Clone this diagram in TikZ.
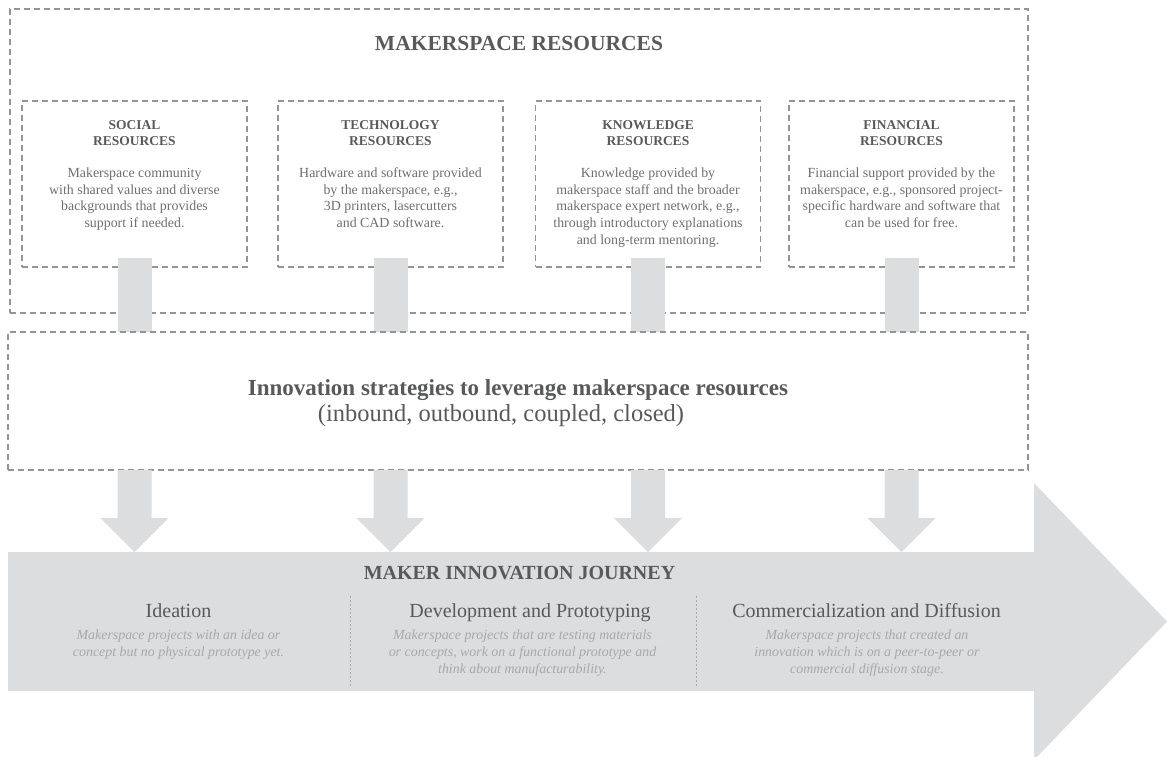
\documentclass[tikz,border=0pt]{standalone}
\usepackage{fontspec}
\setmainfont{Liberation Serif}
\usetikzlibrary{calc}
\definecolor{dashgray}{HTML}{939496}
\definecolor{titlegray}{HTML}{58595B}
\definecolor{bodygray}{HTML}{6D6E70}
\definecolor{descgray}{HTML}{A7A8AA}
\definecolor{barfill}{HTML}{DCDDDE}
\begin{document}
\begin{tikzpicture}[x=1pt,y=-1pt,
  dbox/.style={draw=dashgray, line width=1.1pt, dash pattern=on 6pt off 4pt, inner sep=0pt},
  rbox/.style={dbox, minimum width=225pt, minimum height=166pt},
  rtitle/.style={font=\fontsize{13.5}{16.3}\selectfont\bfseries, text=titlegray, align=center, inner sep=0pt, anchor=north},
  rbody/.style={font=\fontsize{13.9}{16.7}\selectfont, text=bodygray, align=center, inner sep=0pt, anchor=north},
  bigtitle/.style={font=\fontsize{21.5}{24}\selectfont\bfseries, text=titlegray, inner sep=0pt, anchor=base},
  innotext/.style={text=titlegray, inner sep=0pt, anchor=base},
  phase/.style={font=\fontsize{20}{24}\selectfont, text=titlegray, inner sep=0pt, anchor=base},
  desc/.style={font=\fontsize{13.9}{16.6}\selectfont\itshape, text=descgray, align=center, inner sep=0pt, anchor=north},
  bar/.style={draw=barfill, line width=34pt},
  divider/.style={draw=descgray, line width=0.8pt, dash pattern=on 2pt off 2pt}
]
\useasboundingbox (0,0) rectangle (1167,756);

% outer resources box
\node[dbox, minimum width=1018pt, minimum height=304pt] (res) at (519,161) {};
\node[bigtitle] (restitle) at (519,50.7) {MAKERSPACE RESOURCES};

% resource boxes
\node[rbox] (soc) at (134.5,184) {};
\node[rbox] (tech) at (390.5,184) {};
\node[rbox] (know) at (648,184) {};
\node[rbox] (fin) at (901.5,184) {};

\node[rtitle] (soct) at (134.5,120) {SOCIAL\\RESOURCES};
\node[rtitle] (techt) at (390.5,120) {TECHNOLOGY\\RESOURCES};
\node[rtitle] (knowt) at (648,120) {KNOWLEDGE\\RESOURCES};
\node[rtitle] (fint) at (901.5,120) {FINANCIAL\\RESOURCES};

\node[rbody] (socb) at (134.5,167.5) {Makerspace community\\with shared values and diverse\\backgrounds that provides\\support if needed.};
\node[rbody] (techb) at (390.5,167.5) {Hardware and software provided\\by the makerspace, e.g.,\\3D printers, lasercutters\\and CAD software.};
\node[rbody] (knowb) at (648,167.5) {Knowledge provided by\\makerspace staff and the broader\\makerspace expert network, e.g.,\\through introductory explanations\\and long-term mentoring.};
\node[rbody] (finb) at (901.5,167.5) {Financial support provided by the\\makerspace, e.g., sponsored project-\\specific hardware and software that\\can be used for free.};

% innovation strategies box (named first for references)
\path (518,401) node[minimum width=1020pt, minimum height=138pt, inner sep=0pt] (inno) {};

% upper bars
\foreach \b in {soc,tech,know,fin}
  \draw[bar] ([yshift=10pt]\b.south) -- (\b.south |- inno.north);

\node[dbox, minimum width=1020pt, minimum height=138pt] (innobox) at (518,401) {};
\node[innotext, font=\fontsize{23}{26}\selectfont\bfseries] (inno1) at (518,395) {Innovation strategies to leverage makerspace resources};
\node[innotext, font=\fontsize{24.5}{26}\selectfont] (inno2) at (501,421) {(inbound, outbound, coupled, closed)};

% journey arrow
\coordinate (journey) at (519,552);
\fill[barfill] (8,552) -- (1034,552) -- (1034,483) -- (1167,621.5) -- (1034,760) -- (1034,691) -- (8,691) -- cycle;

% lower arrows
\foreach \b in {soc,tech,know,fin}
  \fill[barfill] ($(\b.south |- inno.south)+(-17,0)$) -- ++(0,48) -- ++(-17,0)
     -- (\b.south |- journey) -- ++(34,-34) -- ++(-17,0) -- ++(0,-48) -- cycle;

\node[bigtitle, font=\fontsize{20}{24}\selectfont\bfseries] (jtitle) at (519.5,579.3) {MAKER INNOVATION JOURNEY};

\draw[divider] (350,596) -- (350,688);
\draw[divider] (696,596) -- (696,688);

\node[phase] (p1) at (178.5,617) {Ideation};
\node[phase] (p2) at (530,617) {Development and Prototyping};
\node[phase] (p3) at (866.5,617) {Commercialization and Diffusion};

\node[desc] (d1) at (178.5,630) {Makerspace projects with an idea or\\concept but no physical prototype yet.};
\node[desc] (d2) at (522.5,630) {Makerspace projects that are testing materials\\or concepts, work on a functional prototype and\\think about manufacturability.};
\node[desc] (d3) at (867,630) {Makerspace projects that created an\\innovation which is on a peer-to-peer or\\commercial diffusion stage.};
\end{tikzpicture}
\end{document}
